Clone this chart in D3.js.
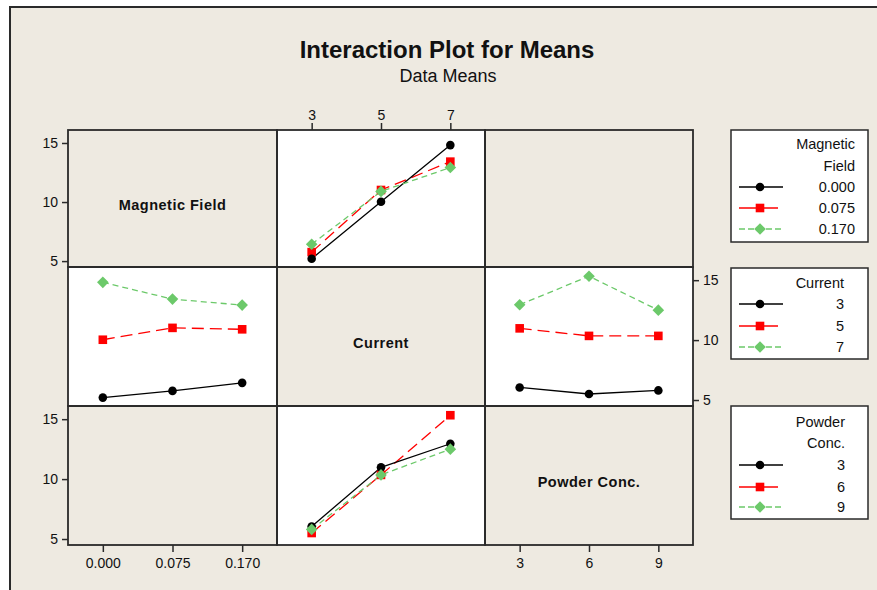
<!DOCTYPE html>
<html>
<head>
<meta charset="utf-8">
<script src="https://cdn.jsdelivr.net/npm/d3@7"></script>
<style>
  html, body { margin: 0; padding: 0; background: #ffffff; }
  svg { display: block; }
  text { font-family: "Liberation Sans", Arial, sans-serif; fill: #111; }
</style>
</head>
<body>
<svg id="chart" width="877" height="590"></svg>
<script>
// ---------------- data ----------------
const magneticLevels = ["0.000", "0.075", "0.170"];
const currentLevels = ["3", "5", "7"];
const powderLevels = ["3", "6", "9"];
const yTicks = [5, 10, 15];

// Means for each Magnetic Field level at Current = 3, 5, 7
const meansMF000 = [5.2, 10.03, 14.82];
const meansMF075 = [5.76, 11.02, 13.42];
const meansMF170 = [6.43, 10.9, 12.92];

// Means for each Current level at Powder Conc. = 3, 6, 9
const meansCur3 = [6.05, 5.5, 5.8];
const meansCur5 = [10.98, 10.35, 10.35];
const meansCur7 = [12.95, 15.33, 12.5];

const titleText = "Interaction Plot for Means";
const subtitleText = "Data Means";
const factorNames = ["Magnetic Field", "Current", "Powder Conc."];

// ---------------- layout ----------------
const svg = d3.select("#chart");
const colX = [68, 277, 485, 693];
const rowY = [130, 267, 406, 545];
const beige = "#EEEAE1";
const frameStroke = "#2a2a2a";

const colors = ["#000000", "#FF0000", "#6CC96A"];
const dashes = [null, "12,6", "6,4"];
const legendDashes = [null, null, "6,3"];
const drawOrder = [1, 0, 2];

// outer frame
svg.append("rect").attr("x", 10).attr("y", 7).attr("width", 900).attr("height", 620)
  .attr("fill", beige).attr("stroke", frameStroke).attr("stroke-width", 2);

// titles
svg.append("text").attr("x", 447).attr("y", 58).attr("text-anchor", "middle")
  .style("font-size", "24px").style("font-weight", "bold").text(titleText);
svg.append("text").attr("x", 448).attr("y", 82).attr("text-anchor", "middle")
  .style("font-size", "18px").text(subtitleText);

// scales
const levelsByCol = [magneticLevels, currentLevels, powderLevels];
const xScales = levelsByCol.map((lv, c) =>
  d3.scalePoint().domain(lv).range([colX[c], colX[c + 1]]).padding(0.5));
const yScales = [0, 1, 2].map(r =>
  d3.scaleLinear().domain([4.5, 16.1]).range([rowY[r + 1], rowY[r]]));

// series per panel
const tr = (a, b, c, i) => [a[i], b[i], c[i]];
const panelData = {
  "0-1": [meansMF000, meansMF075, meansMF170],
  "1-0": [0, 1, 2].map(i => tr(meansMF000, meansMF075, meansMF170, i)),
  "1-2": [meansCur3, meansCur5, meansCur7],
  "2-1": [0, 1, 2].map(i => tr(meansCur3, meansCur5, meansCur7, i))
};

// panel backgrounds
for (let r = 0; r < 3; r++) {
  for (let c = 0; c < 3; c++) {
    const key = r + "-" + c;
    svg.append("rect")
      .attr("x", colX[c]).attr("y", rowY[r])
      .attr("width", colX[c + 1] - colX[c]).attr("height", rowY[r + 1] - rowY[r])
      .attr("fill", panelData[key] ? "#ffffff" : beige);
  }
}

// diagonal labels
[0, 1, 2].forEach(i => {
  svg.append("text")
    .attr("x", (colX[i] + colX[i + 1]) / 2)
    .attr("y", (rowY[i] + rowY[i + 1]) / 2 + 11)
    .attr("text-anchor", "middle")
    .style("font-size", "14.5px").style("font-weight", "bold").style("letter-spacing", "0.5px")
    .text(factorNames[i]);
});

// symbol generators
function drawMarker(g, k, x, y) {
  if (k === 0) {
    g.append("circle").attr("cx", x).attr("cy", y).attr("r", 4.3).attr("fill", colors[0]);
  } else if (k === 1) {
    g.append("rect").attr("x", x - 4.3).attr("y", y - 4.3).attr("width", 8.6).attr("height", 8.6).attr("fill", colors[1]);
  } else {
    const s = 5.8;
    g.append("path").attr("d", `M${x},${y - s}L${x + s},${y}L${x},${y + s}L${x - s},${y}Z`).attr("fill", colors[2]);
  }
}

// data panels
Object.keys(panelData).forEach(key => {
  const [r, c] = key.split("-").map(Number);
  const xs = xScales[c], ys = yScales[r];
  const lv = levelsByCol[c];
  const g = svg.append("g");
  const line = d3.line().x((d, i) => xs(lv[i])).y(d => ys(d));
  drawOrder.forEach(k => {
    g.append("path").attr("d", line(panelData[key][k]))
      .attr("fill", "none").attr("stroke", colors[k]).attr("stroke-width", 1.3)
      .attr("stroke-dasharray", dashes[k]);
  });
  drawOrder.forEach(k => {
    panelData[key][k].forEach((v, i) => drawMarker(g, k, xs(lv[i]), ys(v)));
  });
});

// panel borders
for (let r = 0; r < 3; r++) {
  for (let c = 0; c < 3; c++) {
    svg.append("rect")
      .attr("x", colX[c]).attr("y", rowY[r])
      .attr("width", colX[c + 1] - colX[c]).attr("height", rowY[r + 1] - rowY[r])
      .attr("fill", "none").attr("stroke", frameStroke).attr("stroke-width", 1.8);
  }
}

// axes
function styleAxis(sel) {
  sel.select(".domain").remove();
  sel.selectAll(".tick line").attr("stroke", frameStroke).attr("stroke-width", 1.5);
  sel.selectAll(".tick text").style("font-family", '"Liberation Sans", Arial, sans-serif')
    .style("font-size", "14px").attr("fill", "#111");
}
svg.append("g").attr("transform", `translate(0,${rowY[3]})`)
  .call(d3.axisBottom(xScales[0]).tickSize(7).tickPadding(6)).call(styleAxis);
svg.append("g").attr("transform", `translate(0,${rowY[3]})`)
  .call(d3.axisBottom(xScales[2]).tickSize(7).tickPadding(6)).call(styleAxis);
svg.append("g").attr("transform", `translate(0,${rowY[0]})`)
  .call(d3.axisTop(xScales[1]).tickSize(7).tickPadding(3)).call(styleAxis);
svg.append("g").attr("transform", `translate(${colX[0]},0)`)
  .call(d3.axisLeft(yScales[0]).tickValues(yTicks).tickSize(6).tickPadding(4)).call(styleAxis);
svg.append("g").attr("transform", `translate(${colX[0]},0)`)
  .call(d3.axisLeft(yScales[2]).tickValues(yTicks).tickSize(6).tickPadding(4)).call(styleAxis);
svg.append("g").attr("transform", `translate(${colX[3]},0)`)
  .call(d3.axisRight(yScales[1]).tickValues(yTicks).tickSize(6).tickPadding(4)).call(styleAxis);

// legends
const legends = [
  { title: ["Magnetic", "Field"], labels: magneticLevels, top: 130, bottom: 242, right: 855,
    titleY: [149, 171], rowY: [187, 208, 229] },
  { title: ["Current"], labels: currentLevels, top: 268, bottom: 359, right: 844,
    titleY: [288], rowY: [304, 326, 347] },
  { title: ["Powder", "Conc."], labels: powderLevels, top: 406, bottom: 519, right: 845,
    titleY: [427, 448], rowY: [465, 487, 507] }
];
legends.forEach(L => {
  const g = svg.append("g");
  g.append("rect").attr("x", 731).attr("y", L.top).attr("width", 137).attr("height", L.bottom - L.top)
    .attr("fill", "#ffffff").attr("stroke", frameStroke).attr("stroke-width", 1.5);
  L.title.forEach((t, i) => {
    g.append("text").attr("x", L.right).attr("y", L.titleY[i]).attr("text-anchor", "end")
      .style("font-size", "14.5px").text(t);
  });
  L.labels.forEach((lab, k) => {
    const y = L.rowY[k];
    g.append("line").attr("x1", 739).attr("x2", k === 1 ? 778 : 783).attr("y1", y).attr("y2", y)
      .attr("stroke", colors[k]).attr("stroke-width", 1.3).attr("stroke-dasharray", legendDashes[k]);
    drawMarker(g, k, 760, y);
    g.append("text").attr("x", L.right).attr("y", y + 5).attr("text-anchor", "end")
      .style("font-size", "14.5px").text(lab);
  });
});
</script>
</body>
</html>
